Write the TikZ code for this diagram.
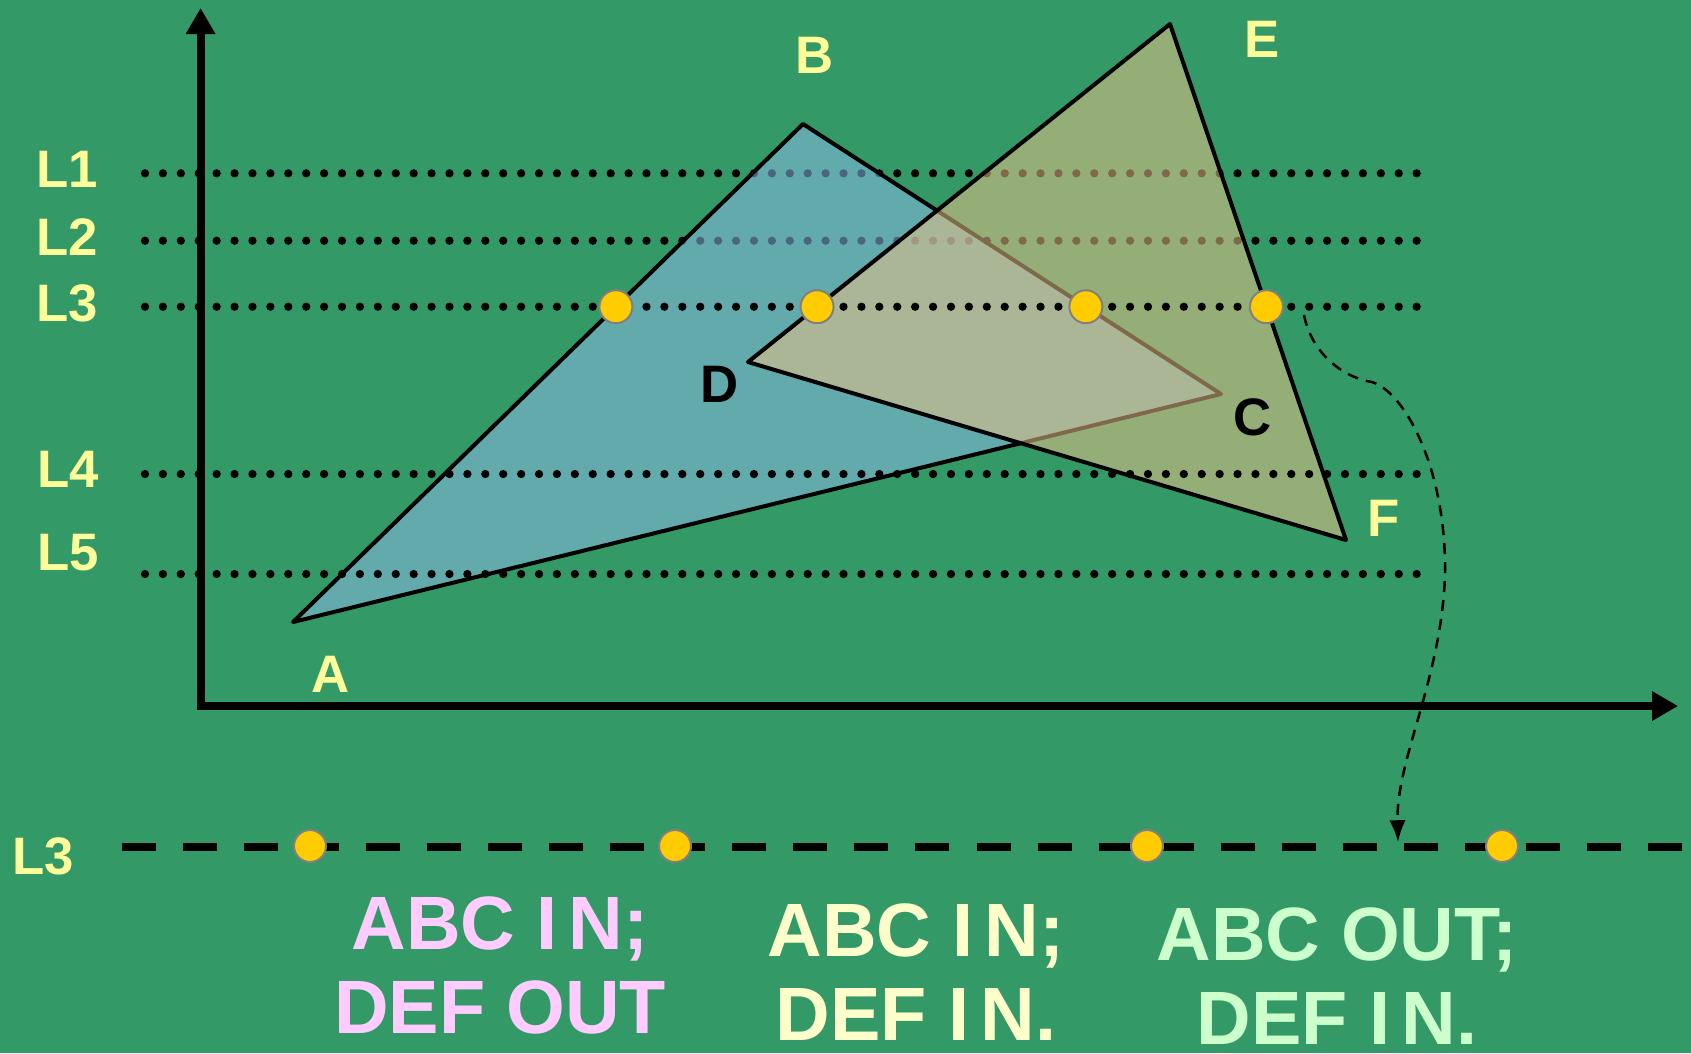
\documentclass[tikz,border=0pt]{standalone}
\usepackage{fontspec}
\setmainfont{Liberation Sans}
\usetikzlibrary{arrows.meta}

\definecolor{board}{RGB}{51,153,102}
\definecolor{chalk}{RGB}{255,255,153}
\definecolor{abcfill}{RGB}{140,185,230}
\definecolor{deffill}{RGB}{231,193,135}
\definecolor{hitdot}{RGB}{255,204,0}
\definecolor{pinktxt}{RGB}{255,204,255}
\definecolor{creamtxt}{RGB}{255,255,204}
\definecolor{minttxt}{RGB}{204,255,204}

\begin{document}
\begin{tikzpicture}[
    x=0.01cm, y=-0.01cm,     % work in pixels, y pointing down
    font=\bfseries\fontsize{15}{18}\selectfont,
    line cap=round,
    line join=round,
    >=Latex,                 % arrow tip style
    scanline/.style={line width=0.083cm, dash pattern=on 0pt off 0.179cm},
    axis/.style={line width=0.08cm, line join=miter, >={Triangle[length=0.26cm,width=0.28cm]}},
    tri/.style={draw=black, line width=0.04cm, fill opacity=0.55},
    lbl/.style={text=chalk, inner sep=0pt},
    ydot/.style={circle, fill=hitdot, draw=gray, line width=0.02cm, minimum size=0.33cm, inner sep=0pt},
    cutline/.style={line width=0.08cm, line cap=butt, dash pattern=on 0.34cm off 0.27cm},
    flow/.style={line width=0.025cm, line cap=butt, dash pattern=on 0.11cm off 0.08cm},
    verdict/.style={align=center, anchor=north, inner sep=0pt, font=\bfseries\fontsize{21.5}{24}\selectfont}
]

% background and size
\fill[board] (0,0) rectangle (1691,1053);
\useasboundingbox (0,0) rectangle (1691,1053);

%-----------------------
% 1) AXES
%-----------------------
\coordinate (orig) at (200.6,706);
\coordinate (ytip) at (200.6,8);
\coordinate (xtip) at (1678,706);
\draw[axis,<->] (ytip) -- (orig) -- (xtip);

%-----------------------
% 2) SCAN LINES (L1, L2 lie behind the triangles)
%-----------------------
\coordinate (l1w) at (145,173.3);  \coordinate (l1e) at (1421,173.3);
\coordinate (l2w) at (145,240.7);  \coordinate (l2e) at (1421,240.7);
\coordinate (l3w) at (145,306.7);  \coordinate (l3e) at (1421,306.7);
\coordinate (l4w) at (145,474);    \coordinate (l4e) at (1421,474);
\coordinate (l5w) at (145,574);    \coordinate (l5e) at (1421,574);

\draw[scanline] (l1w) -- (l1e);
\draw[scanline] (l2w) -- (l2e);

%-----------------------
% 3) TRIANGLES ABC AND DEF
%-----------------------
\coordinate (A) at (293,622);
\coordinate (B) at (803,124);
\coordinate (C) at (1221,394);
\coordinate (D) at (748,362);
\coordinate (E) at (1170,24);
\coordinate (F) at (1346,540);

\draw[tri, fill=abcfill] (A) -- (B) -- (C) -- cycle;
\draw[tri, fill=deffill] (D) -- (E) -- (F) -- cycle;

% L3, L4, L5 lie in front
\draw[scanline] (l3w) -- (l3e);
\draw[scanline] (l4w) -- (l4e);
\draw[scanline] (l5w) -- (l5e);

%-----------------------
% 4) CROSSINGS ON L3
%-----------------------
\node[ydot] (h1) at (intersection of A--B and l3w--l3e) {};
\node[ydot] (h2) at (intersection of D--E and l3w--l3e) {};
\node[ydot] (h3) at (intersection of B--C and l3w--l3e) {};
\node[ydot] (h4) at (intersection of E--F and l3w--l3e) {};

%-----------------------
% 5) LABELS
%-----------------------
\node[lbl] (tL1) at (67,169) {L1};
\node[lbl] (tL2) at (67,237) {L2};
\node[lbl] (tL3) at (67,303) {L3};
\node[lbl] (tL4) at (68,469) {L4};
\node[lbl] (tL5) at (68,553) {L5};

\node[lbl] (tA) at (331,674) {A};
\node[lbl] (tB) at (815,55) {B};
\node[lbl, text=black] (tC) at (1253,417) {C};
\node[lbl, text=black] (tD) at (720,384) {D};
\node[lbl] (tE) at (1262,39) {E};
\node[lbl] (tF) at (1384,518) {F};

%-----------------------
% 6) L3 UNROLLED BELOW
%-----------------------
\coordinate (cutW) at (122,847);
\coordinate (cutE) at (1691,847);
\draw[cutline] (cutW) -- (cutE);
\node[lbl] (tL3b) at (43,856) {L3};

\node[ydot, minimum size=0.32cm] (b1) at (310,846) {};
\node[ydot, minimum size=0.32cm] (b2) at (675,846) {};
\node[ydot, minimum size=0.32cm] (b3) at (1147,846) {};
\node[ydot, minimum size=0.32cm] (b4) at (1502,846) {};

% dashed arrow from the crossings down to the unrolled line
\coordinate (arrS) at (1304,315);
\coordinate (arrE) at (1398,842);
\draw[flow,->] (arrS) .. controls (1312,355) and (1345,378) .. (1372,382)
  .. controls (1405,392) and (1447,470) .. (1445,576)
  .. controls (1441,680) and (1396,760) .. (arrE);

% verdicts for each span
\node[verdict, text=pinktxt] (v1) at (500,896) {ABC I\kern0.15em N;\\DEF OUT};
\node[verdict, text=creamtxt] (v2) at (916,903) {ABC I\kern0.15em N;\\DEF I\kern0.15em N.};
\node[verdict, text=minttxt] (v3) at (1337,907) {ABC OUT;\\DEF I\kern0.15em N.};

\end{tikzpicture}
\end{document}
